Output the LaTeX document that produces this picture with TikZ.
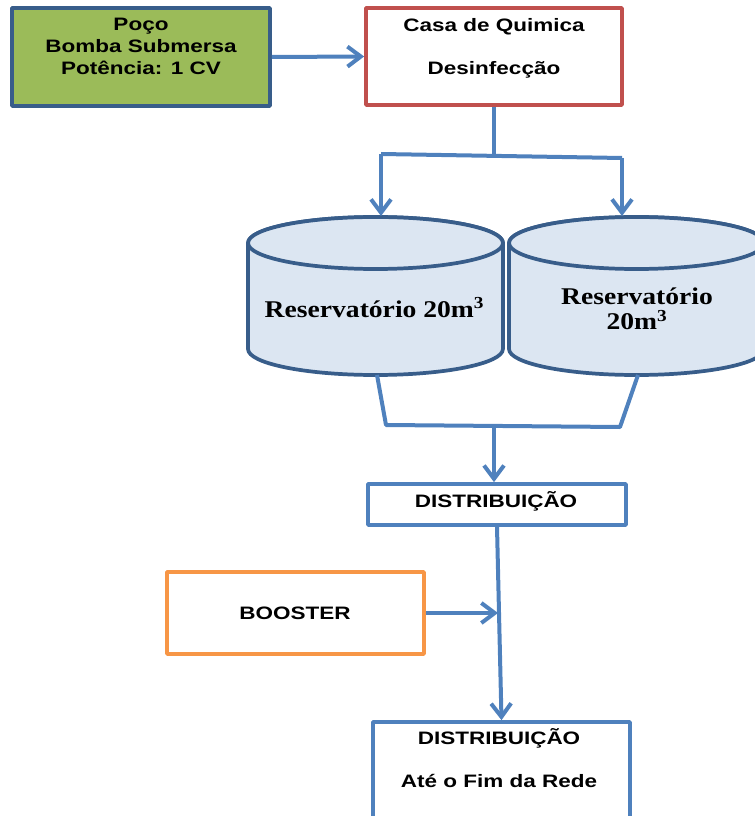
\documentclass[tikz,border=0pt]{standalone}
\usepackage{fontspec}
\usetikzlibrary{arrows.meta}
\newfontfamily\boxfont[FakeStretch=1.25]{Liberation Sans}
\newfontfamily\tankfont[FakeStretch=1.15]{Liberation Serif}
\definecolor{FlowBlue}{HTML}{4F81BD}
\definecolor{EdgeBlue}{HTML}{385D8A}
\definecolor{WellGreen}{HTML}{9BBB59}
\definecolor{TankFill}{HTML}{DCE6F2}
\definecolor{ChemRed}{HTML}{C0504D}
\definecolor{BoostOrange}{HTML}{F79646}

\begin{document}
\begin{tikzpicture}[x=0.75pt,y=-0.75pt,line join=round,
  box/.style={draw,line width=2.8pt,inner sep=0pt},
  boxtext/.style={font=\boxfont\bfseries\fontsize{13.5}{16.5}\selectfont,align=center,inner sep=0pt},
  tanktext/.style={font=\tankfont\bfseries\fontsize{18}{18.75}\selectfont,align=center,inner sep=0pt},
  tank/.style={draw=EdgeBlue,fill=TankFill,line width=2.8pt},
  flow/.style={FlowBlue,line width=3pt},
  flowtip/.style={flow,-{Straight Barb[length=10pt,width=15pt]}}]
  \useasboundingbox (0,0) rectangle (755,816);
  \clip (0,0) rectangle (755,816);

  % boxes
  \node[box,draw=EdgeBlue,fill=WellGreen,minimum width=193.5pt,minimum height=73.5pt] (poco) at (141,57) {};
  \node[box,draw=ChemRed,minimum width=192pt,minimum height=72.75pt] (casa) at (494,56.5) {};
  \node[box,draw=FlowBlue,minimum width=193.5pt,minimum height=30.75pt] (dist) at (497,504.5) {};
  \node[box,draw=BoostOrange,minimum width=192.75pt,minimum height=61.5pt] (booster) at (295.5,613) {};
  \node[box,draw=FlowBlue,minimum width=192.75pt,minimum height=88.5pt] (fim) at (501.5,781) {};

  % texts
  \node[boxtext] (pocoT) at (141,46.5) {Poço\\Bomba Submersa\\Potência: 1 CV};
  \node[boxtext,font=\boxfont\bfseries\fontsize{13.5}{32.25}\selectfont] (casaT) at (494,48) {Casa de Quimica\\Desinfecção};
  \node[boxtext,anchor=base] (distT) at (496,507) {DISTRIBUIÇÃO};
  \node[boxtext,anchor=base] (boosterT) at (295,619) {BOOSTER};
  \node[boxtext,font=\boxfont\bfseries\fontsize{13.5}{32.25}\selectfont] (fimT) at (499,758) {DISTRIBUIÇÃO\\Até o Fim da Rede};

  % reservoirs
  \draw[tank] (248,243) -- (248,349) arc[start angle=180,end angle=360,x radius=95.6pt,y radius=19.5pt]
    -- (503,243) arc[start angle=0,end angle=180,x radius=95.6pt,y radius=19.5pt] -- cycle;
  \draw[tank] (375.5,243) ellipse[x radius=95.6pt,y radius=19.5pt];
  \draw[tank] (509,243) -- (509,349) arc[start angle=180,end angle=360,x radius=95.6pt,y radius=19.5pt]
    -- (764,243) arc[start angle=0,end angle=180,x radius=95.6pt,y radius=19.5pt] -- cycle;
  \draw[tank] (636.5,243) ellipse[x radius=95.6pt,y radius=19.5pt];
  \node[tanktext,anchor=base] (resL) at (374.5,317) {Reservatório 20m\textsuperscript{3}};
  \node[tanktext] (resR) at (637,309) {Reservatório\\20m\textsuperscript{3}};

  % connector points
  \coordinate (split) at (494,155);
  \coordinate (splitL) at (381,154); \coordinate (splitR) at (622,158);
  \coordinate (inL) at (381,216); \coordinate (inR) at (622,216);
  \coordinate (outL) at (377,375); \coordinate (outR) at (638,375);
  \coordinate (mergeL) at (386,425); \coordinate (mergeR) at (620,427);
  \coordinate (merge) at (494,426);
  \coordinate (join) at (498,613);

  % connectors
  \draw[flowtip] (poco.east) -- (casa.west);
  \draw[flow] (casa.south) -- (split);
  \draw[flow] (splitL) -- (splitR);
  \draw[flowtip] (splitL) -- (inL);
  \draw[flowtip] (splitR) -- (inR);
  \draw[flow] (outL) -- (mergeL) -- (mergeR) -- (outR);
  \draw[flowtip] (merge) -- (merge |- dist.north);
  \draw[flowtip] (dist.south) -- (fim.north);
  \draw[flowtip] (booster.east) -- (join);
\end{tikzpicture}
\end{document}
